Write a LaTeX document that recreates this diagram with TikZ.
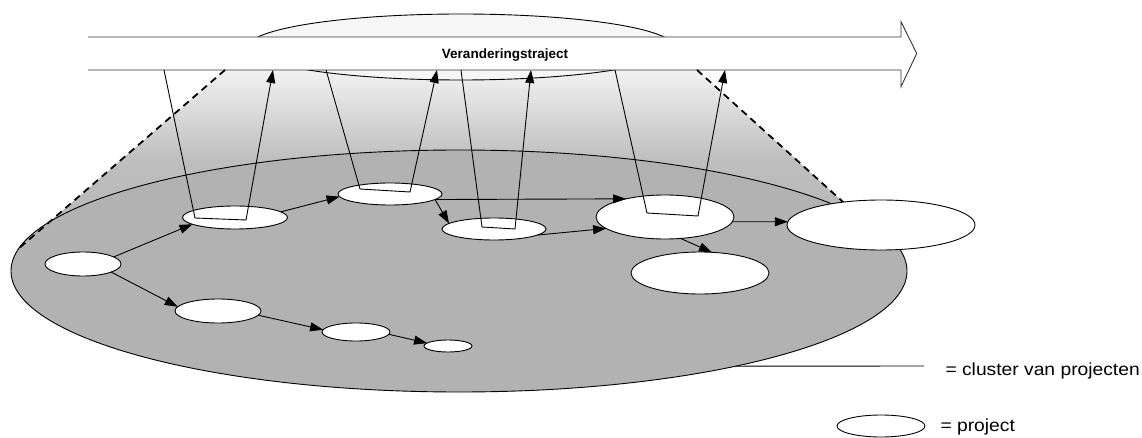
\documentclass[tikz,border=0pt]{standalone}
\usepackage{fontspec}
\setmainfont{Liberation Sans}
\usetikzlibrary{shapes.geometric,arrows.meta}
\definecolor{clgray}{gray}{0.70}
\definecolor{topfill}{gray}{0.965}
\definecolor{shbot}{gray}{0.71}
\definecolor{shmid}{gray}{0.745}
\definecolor{shtop}{gray}{0.95}
\definecolor{bandline}{gray}{0.2}
\pgfdeclareverticalshading{coneshade}{100bp}{color(0bp)=(shbot); color(25bp)=(shbot); color(50bp)=(shmid); color(75bp)=(shtop); color(100bp)=(shtop)}
\begin{document}
\begin{tikzpicture}[x=1pt,y=-1pt,
  proj/.style={ellipse, draw, fill=white, line width=0.9pt, inner sep=0pt, outer sep=0pt},
  arr/.style={line width=0.9pt, -{Triangle[length=13pt,width=9pt]}},
  thinline/.style={line width=0.9pt},
  dashedge/.style={line width=1.8pt, dash pattern=on 7pt off 5pt},
  legtext/.style={anchor=base west, font=\fontsize{17.5}{20}\selectfont\addfontfeature{FakeStretch=1.1}}]
\useasboundingbox (0,0) rectangle (1142,438);

% cone between band and cluster
\coordinate (dl1) at (225,70);
\coordinate (dl2) at (17,250);
\coordinate (dr1) at (697,70);
\coordinate (dr2) at (853,211);
\shade[shading=coneshade] (dl1) -- (dr1) -- (dr2) -- (dl2) -- cycle;

% ellipse behind the band
\node[ellipse, draw, fill=topfill, line width=0.9pt, inner sep=0pt, outer sep=0pt,
      minimum width=426pt, minimum height=66pt] (topell) at (461,47) {};

% band arrow
\fill[white] (88,37) -- (901,37) -- (901,21.7) -- (916.7,53.5) -- (901,86.7) -- (901,70) -- (88,70) -- cycle;
\draw[bandline, line width=0.9pt] (88,37) -- (901,37) -- (901,21.7) -- (916.7,53.5) -- (901,86.7) -- (901,70) -- (88,70);
\node[anchor=base, font=\bfseries\fontsize{13.5}{16}\selectfont] (title) at (505,58.3) {Veranderingstraject};

% cluster
\node[ellipse, draw, fill=clgray, line width=0.9pt, inner sep=0pt, outer sep=0pt,
      minimum width=896pt, minimum height=242pt] (cluster) at (459,271) {};

\draw[dashedge] (dl1) -- (dl2);
\draw[dashedge] (dr1) -- (dr2);

% projects
\node[proj, minimum width=76pt,  minimum height=24pt] (A) at (83,264) {};
\node[proj, minimum width=105pt, minimum height=23pt] (B) at (235,217.5) {};
\node[proj, minimum width=104pt, minimum height=22pt] (C) at (390,194) {};
\node[proj, minimum width=86pt,  minimum height=24pt] (D) at (218,311) {};
\node[proj, minimum width=68pt,  minimum height=18pt] (E) at (356,332) {};
\node[proj, minimum width=48pt,  minimum height=12pt] (F) at (448,346) {};
\node[proj, minimum width=104pt, minimum height=22pt] (G) at (494,229) {};
\node[proj, minimum width=138pt, minimum height=44pt] (H) at (665,217) {};
\node[proj, minimum width=138pt, minimum height=42pt] (J) at (700,273) {};
\node[proj, minimum width=188pt, minimum height=50pt] (I) at (881,225) {};

% arrows between projects
\draw[arr] (A.13) -- (B.189.5);
\draw[arr] (A.344.5) -- (D.174.3);
\draw[arr] (B.7.7) -- (C.183.7);
\draw[arr] (D.354.6) -- (E.176.7);
\draw[arr] (E.356.1) -- (F.172.8);
\draw[arr] (C.353.8) -- (H.155.8);
\draw[arr] (C.353.7) -- (G.173.2);
\draw[arr] (G.352.2) -- (H.191);
\draw[arr] (H.356.2) -- (I.178);
\draw[arr] (H.306.5) -- (J.60.8);

% links between band and projects
\coordinate (b1) at (164,70);  \coordinate (b2) at (273,70);
\coordinate (c1) at (326,70);  \coordinate (c2) at (437,70);
\coordinate (g1) at (461,70);  \coordinate (g2) at (531,70);
\coordinate (h1) at (615,70);  \coordinate (h2) at (725,70);
\coordinate (ub1) at (195,218); \coordinate (ub2) at (246,220);
\coordinate (uc1) at (360,189); \coordinate (uc2) at (410,192);
\coordinate (ug1) at (482,227); \coordinate (ug2) at (515,229);
\coordinate (uh1) at (647,213); \coordinate (uh2) at (698,216);
\draw[arr] (b1) -- (ub1) -- (ub2) -- (b2);
\draw[arr] (c1) -- (uc1) -- (uc2) -- (c2);
\draw[arr] (g1) -- (ug1) -- (ug2) -- (g2);
\draw[arr] (h1) -- (uh1) -- (uh2) -- (h2);

% legend
\coordinate (legend1) at (924,366);
\draw[thinline] (cluster.-19.6) -- (legend1);
\node[legtext] (lt1) at (942,375.5) {= cluster van projecten};
\node[proj, minimum width=88pt, minimum height=22pt] (lg) at (881,426) {};
\node[legtext] (lt2) at (937,431.5) {= project};
\end{tikzpicture}
\end{document}
